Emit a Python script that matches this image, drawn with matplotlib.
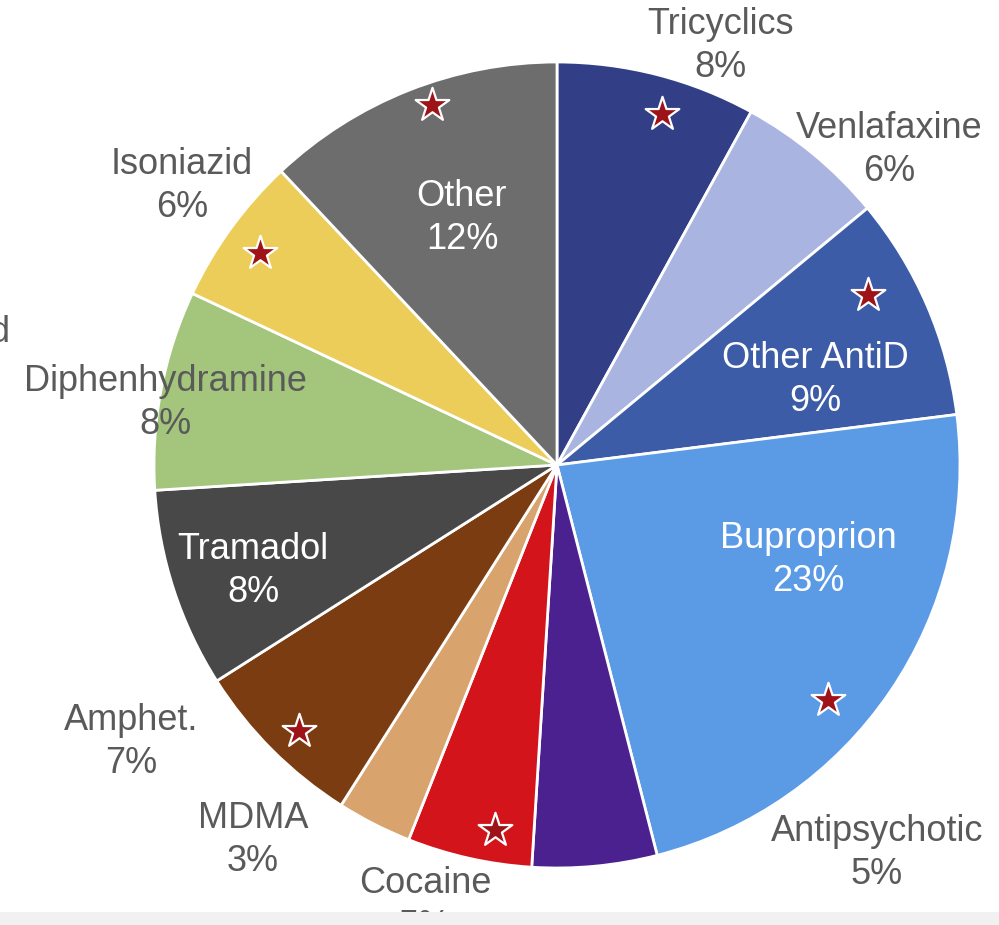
import numpy as np
import matplotlib.pyplot as plt
from matplotlib.patches import Rectangle

# Share of cases by substance, clockwise from 12 o'clock
substances = ["Tricyclics", "Venlafaxine", "Other AntiD", "Buproprion",
              "Antipsychotic", "Cocaine", "MDMA", "Amphet.", "Tramadol",
              "Diphenhydramine", "Isoniazid", "Other"]
shares = [8, 6, 9, 23, 5, 5, 3, 7, 8, 8, 6, 12]
starred = ["Tricyclics", "Other AntiD", "Buproprion", "Cocaine",
           "Amphet.", "Isoniazid", "Other"]

colors = ["#323f86", "#a9b5e0", "#3d5ca8", "#5b9be6", "#4b2190", "#d3151b",
          "#d9a36e", "#7a3c10", "#484848", "#a3c67c", "#eccd5a", "#6d6d6d"]

# label anchor (pixel x, pixel y) and whether the text sits on the wedge
label_px = {
    "Tricyclics": (720, 46, False),
    "Venlafaxine": (889, 150, False),
    "Other AntiD": (815, 380, True),
    "Buproprion": (808, 560, True),
    "Antipsychotic": (877, 853, False),
    "Cocaine": (425, 905, False),
    "MDMA": (253, 840, False),
    "Amphet.": (131, 742, False),
    "Tramadol": (253, 571, True),
    "Diphenhydramine": (165, 403, False),
    "Isoniazid": (182, 186, False),
    "Other": (462, 218, True),
}
# star placement: angular shift from wedge middle (deg), radius fraction
star_pos = {
    "Tricyclics": (-2.2, 0.91), "Other AntiD": (5.3, 0.88),
    "Buproprion": (-6.7, 0.89), "Cocaine": (2.9, 0.92),
    "Amphet.": (0.8, 0.92), "Isoniazid": (0.4, 0.905), "Other": (-2.5, 0.945),
}

W, H = 999, 925
CX, CY, R = 557, 465, 403


def px(x, y):
    return (x - CX) / R, (CY - y) / R


plt.rcParams['font.family'] = ['Liberation Sans', 'DejaVu Sans']

fig = plt.figure(figsize=(W / 100, H / 100), dpi=100)
ax = fig.add_axes([0, 0, 1, 1])
wedges, _ = ax.pie(shares, colors=colors, startangle=90, counterclock=False,
                   radius=1, wedgeprops=dict(edgecolor="white", linewidth=2))
ax.set_xlim(-CX / R, (W - CX) / R)
ax.set_ylim(-(H - CY) / R, CY / R)
ax.set_aspect("auto")
ax.axis("off")

for name, share in zip(substances, shares):
    x, y, inside = label_px[name]
    tx, ty = px(x, y)
    ax.text(tx, ty, f"{name}\n{share}%", ha="center", va="center",
            fontsize=26, linespacing=1.27,
            color="white" if inside else "#5a5a5a")

# stars flag the substances of interest
for w, name in zip(wedges, substances):
    if name not in starred:
        continue
    shift, rf = star_pos[name]
    mid = np.deg2rad((w.theta1 + w.theta2) / 2 + shift)
    ax.scatter(rf * np.cos(mid), rf * np.sin(mid), marker="*", s=650,
               color="#9e1318", edgecolors="white", linewidths=1.6, zorder=5)

# tail of a clipped label at the left border
ax.text(*px(9, 333), "d", ha="right", va="center", fontsize=26, color="#5a5a5a")

# grey strip along the bottom edge
fig.patches.append(Rectangle((0, 0), 1, 13 / H, transform=fig.transFigure,
                             facecolor="#f1f1f1", edgecolor="none", zorder=10))

fig.savefig("out.png", dpi=100)
